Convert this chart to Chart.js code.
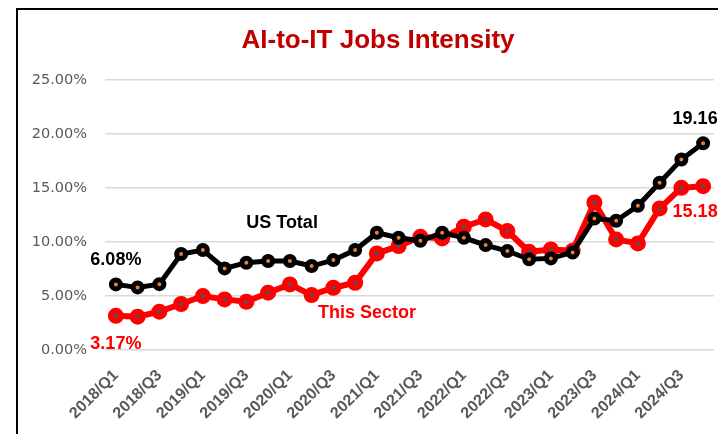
<!DOCTYPE html>
<html>
<head>
<meta charset="utf-8">
<script src="https://cdn.jsdelivr.net/npm/chart.js@4"></script>
<style>
  html, body { margin: 0; padding: 0; background: #fff; overflow: hidden; width: 718px; height: 434px; }
  #frame { position: absolute; left: 16px; top: 8px; width: 800px; height: 500px;
           border-left: 2px solid #000; border-top: 2px solid #000; }
  #myChart { display: block; position: absolute; left: -6px; top: 0; }
</style>
</head>
<body>
<div id="frame"><canvas id="myChart" width="732" height="440"></canvas></div>
<script>
// quarters on the x axis
var categories = [
  '2018/Q1', '2018/Q2', '2018/Q3', '2018/Q4',
  '2019/Q1', '2019/Q2', '2019/Q3', '2019/Q4',
  '2020/Q1', '2020/Q2', '2020/Q3', '2020/Q4',
  '2021/Q1', '2021/Q2', '2021/Q3', '2021/Q4',
  '2022/Q1', '2022/Q2', '2022/Q3', '2022/Q4',
  '2023/Q1', '2023/Q2', '2023/Q3', '2023/Q4',
  '2024/Q1', '2024/Q2', '2024/Q3', '2024/Q4'
];

// values in percent
var usTotal = [6.08, 5.80, 6.10, 8.90, 9.26, 7.56, 8.09, 8.24, 8.24, 7.78, 8.33, 9.26, 10.86, 10.40,
               10.12, 10.86, 10.40, 9.72, 9.17, 8.40, 8.49, 9.04, 12.19, 11.98, 13.36, 15.50, 17.65, 19.16];
var thisSector = [3.17, 3.09, 3.55, 4.26, 5.00, 4.69, 4.47, 5.31, 6.08, 5.09, 5.77, 6.23, 8.95, 9.63,
                  10.49, 10.34, 11.42, 12.10, 11.02, 9.10, 9.32, 9.20, 13.67, 10.25, 9.88, 13.12, 15.03, 15.18];

var yTicks = [0, 5, 10, 15, 20, 25];
var yTickLabels = ['0.00%', '5.00%', '10.00%', '15.00%', '20.00%', '25.00%'];

var seriesNames = ['US Total', 'This Sector'];

document.addEventListener('DOMContentLoaded', function () {
  var FONT = '"Liberation Sans", Arial, sans-serif';

  // first / last value labels, drawn from the point positions
  var valueLabels = {
    id: 'valueLabels',
    afterLayout: function (chart) {
      // let the y tick labels use the space left of the (narrow) axis box
      chart.scales.y.left = 0;
    },
    afterDatasetsDraw: function (chart, args, opts) {
      var ctx = chart.ctx;
      ctx.save();
      ctx.font = 'bold 18px ' + FONT;
      ctx.textAlign = 'center';
      ctx.textBaseline = 'middle';
      opts.items.forEach(function (it) {
        var pt = chart.getDatasetMeta(it.dataset).data[it.index];
        var v = chart.data.datasets[it.dataset].data[it.index];
        ctx.fillStyle = it.color;
        ctx.fillText(v.toFixed(2) + '%', pt.x, pt.y + it.dy);
      });
      // series names, placed in data coordinates
      opts.names.forEach(function (n) {
        ctx.fillStyle = n.color;
        ctx.fillText(n.text, chart.scales.x.getPixelForValue(n.at), chart.scales.y.getPixelForValue(n.value));
      });
      ctx.restore();
    }
  };

  var ctx = document.getElementById('myChart');
  new Chart(ctx, {
    type: 'line',
    data: {
      labels: categories,
      datasets: [{
        label: seriesNames[0],
        data: usTotal,
        borderColor: '#000000',
        borderWidth: 5,
        pointRadius: 4.5,
        pointBorderWidth: 5,
        pointBorderColor: '#000000',
        pointBackgroundColor: '#ED7D31',
        tension: 0
      }, {
        label: seriesNames[1],
        data: thisSector,
        borderColor: '#FF0000',
        borderWidth: 6,
        pointRadius: 5,
        pointBorderWidth: 6,
        pointBorderColor: '#FF0000',
        pointBackgroundColor: '#44546A',
        tension: 0
      }]
    },
    options: {
      responsive: false,
      animation: false,
      devicePixelRatio: 1,
      layout: { padding: { left: 30, right: 30, top: 0, bottom: 0 } },
      scales: {
        x: {
          offset: true,
          grid: { display: false },
          border: { display: false },
          ticks: {
            autoSkip: false,
            minRotation: 45,
            maxRotation: 45,
            padding: 8,
            color: '#595959',
            font: { family: FONT, size: 16, weight: 'bold' },
            callback: function (v, i) { return i % 2 === 0 ? categories[i] : ''; }
          },
          afterFit: function (scale) { scale.height = 100; }
        },
        y: {
          min: 0,
          max: 25,
          afterBuildTicks: function (scale) {
            scale.ticks = yTicks.map(function (v) { return { value: v }; });
          },
          grid: { color: '#D9D9D9', lineWidth: 1.5, drawTicks: false },
          border: { display: false },
          ticks: {
            padding: 18,
            color: '#595959',
            font: { family: '"DejaVu Sans", sans-serif', size: 14.5 },
            callback: function (v) { return yTickLabels[yTicks.indexOf(v)]; }
          },
          afterFit: function (scale) { scale.width = 63; }
        }
      },
      plugins: {
        legend: { display: false },
        tooltip: { enabled: false },
        title: {
          display: true,
          text: 'AI-to-IT Jobs Intensity',
          color: '#C00000',
          font: { family: FONT, size: 26, weight: 'bold' },
          padding: { top: 15, bottom: 24 }
        },
        valueLabels: {
          items: [
            { dataset: 0, index: 0, dy: -24, color: '#000000' },
            { dataset: 0, index: 27, dy: -24, color: '#000000' },
            { dataset: 1, index: 0, dy: 28, color: '#FF0000' },
            { dataset: 1, index: 27, dy: 26, color: '#FF0000' }
          ],
          names: [
            { text: seriesNames[0], at: 7.64, value: 11.8, color: '#000000' },
            { text: seriesNames[1], at: 11.55, value: 3.38, color: '#FF0000' }
          ]
        }
      }
    },
    plugins: [valueLabels]
  });
});
</script>
</body>
</html>
